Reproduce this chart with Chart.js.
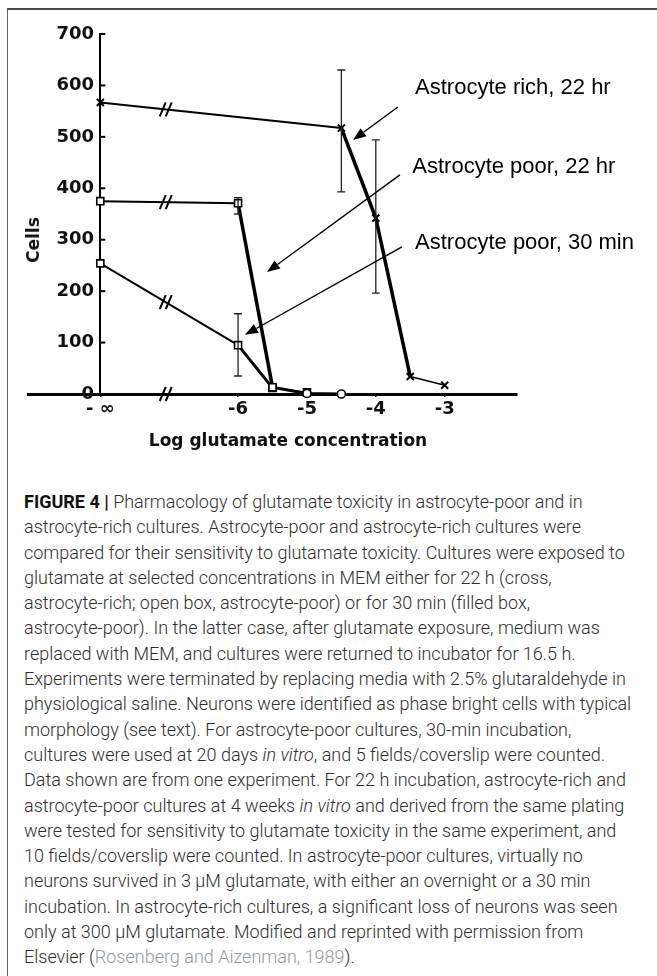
<!DOCTYPE html>
<html lang="en">
<head>
    <meta charset="UTF-8">
    <title>Figure 4 - Glutamate toxicity</title>
    <script src="https://cdn.jsdelivr.net/npm/chart.js@4"></script>
    <style>
        body { margin: 0; background: #fff; }
        .page { position: relative; width: 657px; height: 976px; overflow: hidden; }
        .frame {
            position: absolute; left: 7px; top: 8px; width: 660px; height: 980px;
            border-top: 2px solid #4a4a4a; border-left: 1.5px solid #666;
        }
        #chart { position: absolute; left: 0; top: 0; }
        .axis-title {
            position: absolute; font-family: "DejaVu Sans", sans-serif; font-weight: bold;
            font-size: 17px; color: #111; white-space: nowrap;
        }
        .x-title { left: 288px; top: 440px; transform: translate(-50%, -50%); }
        .y-title { left: 33px; top: 240px; transform: translate(-50%, -50%) rotate(-90deg); }
        .caption {
            position: absolute; left: 24px; top: 489px;
            font-family: Roboto, sans-serif; font-weight: 300; font-size: 18px;
            line-height: 25.3px; color: #2e2e2e; white-space: nowrap;
        }
        .caption b { font-weight: 700; color: #111; }
        .caption .ref { color: #8f9ba6; }
    </style>
</head>
<body>
<div class="page">
    <div class="frame"></div>
    <canvas id="chart" width="657" height="470"></canvas>
    <div class="axis-title x-title">Log glutamate concentration</div>
    <div class="axis-title y-title">Cells</div>
    <div class="caption">
        <b>FIGURE 4 |</b> Pharmacology of glutamate toxicity in astrocyte-poor and in<br>
        astrocyte-rich cultures. Astrocyte-poor and astrocyte-rich cultures were<br>
        compared for their sensitivity to glutamate toxicity. Cultures were exposed to<br>
        glutamate at selected concentrations in MEM either for 22 h (cross,<br>
        astrocyte-rich; open box, astrocyte-poor) or for 30 min (filled box,<br>
        astrocyte-poor). In the latter case, after glutamate exposure, medium was<br>
        replaced with MEM, and cultures were returned to incubator for 16.5 h.<br>
        Experiments were terminated by replacing media with 2.5% glutaraldehyde in<br>
        physiological saline. Neurons were identified as phase bright cells with typical<br>
        morphology (see text). For astrocyte-poor cultures, 30-min incubation,<br>
        cultures were used at 20 days <i>in vitro</i>, and 5 fields/coverslip were counted.<br>
        Data shown are from one experiment. For 22 h incubation, astrocyte-rich and<br>
        astrocyte-poor cultures at 4 weeks <i>in vitro</i> and derived from the same plating<br>
        were tested for sensitivity to glutamate toxicity in the same experiment, and<br>
        10 fields/coverslip were counted. In astrocyte-poor cultures, virtually no<br>
        neurons survived in 3 &mu;M glutamate, with either an overnight or a 30 min<br>
        incubation. In astrocyte-rich cultures, a significant loss of neurons was seen<br>
        only at 300 &mu;M glutamate. Modified and reprinted with permission from<br>
        Elsevier (<span class="ref">Rosenberg and Aizenman, 1989</span>).
    </div>
</div>

<script>
    // -8 on the x scale stands in for "-infinity" (no glutamate)
    const xTicks = [-8, -6, -5, -4, -3];
    const yTicks = [0, 100, 200, 300, 400, 500, 600, 700];

    // astrocyte rich, 22 hr (crosses)
    const richX = [-8, -4.5, -4, -3.5, -3];
    const richY = [567, 517, 342, 34, 17];
    const richErr = [null, [393, 630], [196, 494], null, null];

    // astrocyte poor, 22 hr (open boxes)
    const poor22X = [-8, -6, -5.5, -5, -4.5];
    const poor22Y = [375, 371, 13, 1, 0];
    const poor22Err = [null, [350, 382], null, null, null];

    // astrocyte poor, 30 min
    const poor30X = [-8, -6, -5.5, -5];
    const poor30Y = [254, 95, 12, 3];
    const poor30Err = [null, [35, 156], null, null];

    const breakAt = -7.05;

    const labels = [
        { text: 'Astrocyte rich, 22 hr', at: [-3.43, 595], from: [-3.68, 558], to: [-4.33, 494] },
        { text: 'Astrocyte poor, 22 hr', at: [-3.47, 441], from: [-3.65, 426], to: [-5.58, 237] },
        { text: 'Astrocyte poor, 30 min', at: [-3.43, 294], from: [-3.62, 286], to: [-5.90, 115] }
    ];

    const toPoints = (xs, ys) => xs.map((v, i) => ({ x: v, y: ys[i] }));

    const richWidths = [2, 3.5, 3.5, 1.5];
    const poor22Widths = [2, 3.5, 3, 3];
    const poor30Widths = [2, 3, 1.5];

    const tickFont = { family: 'DejaVu Sans', size: 18, weight: 'bold' };

    // error bars, axis breaks, inward y ticks, arrows and callout text
    const overlay = {
        id: 'overlay',
        afterDatasetsDraw(chart) {
            const { ctx, scales: { x, y } } = chart;
            ctx.save();
            ctx.fillStyle = '#000';

            // error bars
            chart.data.datasets.forEach(ds => {
                (ds.errors || []).forEach((e, j) => {
                    if (!e) return;
                    const px = x.getPixelForValue(ds.data[j].x);
                    const lo = y.getPixelForValue(e[0]);
                    const hi = y.getPixelForValue(e[1]);
                    ctx.lineWidth = 1.3;
                    ctx.strokeStyle = '#222';
                    ctx.beginPath();
                    ctx.moveTo(px, lo); ctx.lineTo(px, hi);
                    ctx.moveTo(px - 4, lo); ctx.lineTo(px + 4, lo);
                    ctx.moveTo(px - 4, hi); ctx.lineTo(px + 4, hi);
                    ctx.stroke();
                });
            });

            // small ticks pointing into the plot from the y axis
            const ax = x.getPixelForValue(-8);
            ctx.lineWidth = 2;
            ctx.strokeStyle = '#000';
            y.ticks.forEach(t => {
                const py = y.getPixelForValue(t.value);
                ctx.beginPath();
                ctx.moveTo(ax, py); ctx.lineTo(ax + 5, py);
                ctx.stroke();
            });

            // break marks "//" on the lines and on the x axis
            const drawBreak = (cx, cy) => {
                ctx.lineWidth = 2;
                ctx.strokeStyle = '#000';
                [-3, 3].forEach(off => {
                    ctx.beginPath();
                    ctx.moveTo(cx + off - 3, cy + 7);
                    ctx.lineTo(cx + off + 3, cy - 7);
                    ctx.stroke();
                });
            };
            chart.data.datasets.forEach(ds => {
                const a = ds.data[0], b = ds.data[1];
                const t = (breakAt - a.x) / (b.x - a.x);
                drawBreak(x.getPixelForValue(breakAt), y.getPixelForValue(a.y + t * (b.y - a.y)));
            });
            drawBreak(x.getPixelForValue(breakAt), y.getPixelForValue(0));

            // arrows + labels
            labels.forEach(l => {
                const x0 = x.getPixelForValue(l.from[0]), y0 = y.getPixelForValue(l.from[1]);
                const x1 = x.getPixelForValue(l.to[0]), y1 = y.getPixelForValue(l.to[1]);
                const ang = Math.atan2(y1 - y0, x1 - x0);
                const len = 13, half = 5;
                const bx = x1 - len * Math.cos(ang), by = y1 - len * Math.sin(ang);
                ctx.lineWidth = 1.4;
                ctx.strokeStyle = '#000';
                ctx.beginPath();
                ctx.moveTo(x0, y0); ctx.lineTo(bx, by);
                ctx.stroke();
                ctx.beginPath();
                ctx.moveTo(x1, y1);
                ctx.lineTo(bx + half * Math.sin(ang), by - half * Math.cos(ang));
                ctx.lineTo(bx - half * Math.sin(ang), by + half * Math.cos(ang));
                ctx.closePath();
                ctx.fill();

                ctx.font = '22px "Liberation Sans"';
                ctx.textBaseline = 'middle';
                ctx.textAlign = 'left';
                ctx.fillText(l.text, x.getPixelForValue(l.at[0]), y.getPixelForValue(l.at[1]));
            });
            ctx.restore();
        }
    };

    const lineStyle = {
        borderColor: '#000',
        pointBorderColor: '#000',
        pointBackgroundColor: '#fff',
        pointBorderWidth: 1.6,
        fill: false,
        tension: 0,
        clip: false
    };

    new Chart(document.getElementById('chart'), {
        type: 'scatter',
        data: {
            datasets: [
                Object.assign({}, lineStyle, {
                    label: 'Astrocyte rich, 22 hr',
                    data: toPoints(richX, richY),
                    errors: richErr,
                    showLine: true,
                    pointStyle: 'crossRot',
                    pointRadius: 5,
                    pointBorderWidth: 2,
                    segment: { borderWidth: c => richWidths[c.p0DataIndex] }
                }),
                Object.assign({}, lineStyle, {
                    label: 'Astrocyte poor, 22 hr',
                    data: toPoints(poor22X, poor22Y),
                    errors: poor22Err,
                    showLine: true,
                    pointStyle: ['rect', 'rect', 'rect', 'circle', 'circle'],
                    pointRadius: [5, 5, 5, 4, 4],
                    segment: { borderWidth: c => poor22Widths[c.p0DataIndex] }
                }),
                Object.assign({}, lineStyle, {
                    label: 'Astrocyte poor, 30 min',
                    data: toPoints(poor30X, poor30Y),
                    errors: poor30Err,
                    showLine: true,
                    pointStyle: 'rect',
                    pointRadius: 5,
                    segment: { borderWidth: c => poor30Widths[c.p0DataIndex] }
                })
            ]
        },
        options: {
            responsive: false,
            animation: false,
            layout: { padding: { left: 28, right: 140, top: 34, bottom: 30 } },
            plugins: { legend: { display: false }, tooltip: { enabled: false } },
            scales: {
                x: {
                    type: 'linear',
                    min: -9.05,
                    max: -1.95,
                    position: 'bottom',
                    afterBuildTicks: s => { s.ticks = xTicks.map(v => ({ value: v })); },
                    afterFit: s => { s.height = 46; },
                    ticks: {
                        font: tickFont,
                        color: '#111',
                        padding: 2,
                        maxRotation: 0,
                        callback: v => (v === -8 ? '- \u221e' : String(v))
                    },
                    grid: { drawOnChartArea: false, tickLength: 3, color: '#000', lineWidth: 1.5 },
                    border: { color: '#000', width: 3 }
                },
                y: {
                    type: 'linear',
                    min: 0,
                    max: 700,
                    position: { x: -8 },
                    afterBuildTicks: s => { s.ticks = yTicks.map(v => ({ value: v })); },
                    // labels sit right against the axis when it is placed by value, so pad with a space
                    ticks: { font: tickFont, color: '#111', callback: v => v + ' ' },
                    grid: { drawOnChartArea: false, drawTicks: false },
                    border: { color: '#000', width: 2 }
                }
            }
        },
        plugins: [overlay]
    });
</script>
</body>
</html>
